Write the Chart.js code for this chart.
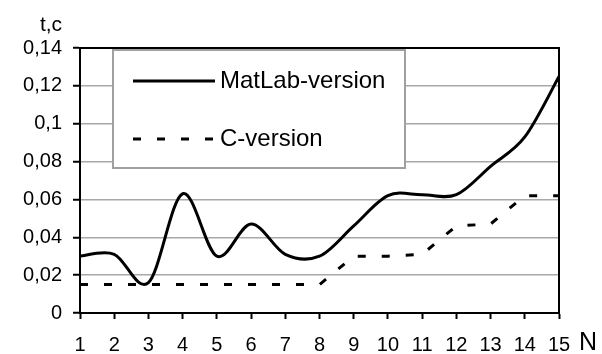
<!DOCTYPE html>
<html>
<head>
<meta charset="utf-8">
<script src="https://cdn.jsdelivr.net/npm/chart.js@4.4.0/dist/chart.umd.min.js"></script>
<style>
  body { margin: 0; background: #fff; }
</style>
</head>
<body>
<canvas id="timeChart" width="602" height="354"></canvas>
<script>
// values
var nValues      = [1, 2, 3, 4, 5, 6, 7, 8, 9, 10, 11, 12, 13, 14, 15];
var matlabTimes  = [0.030, 0.031, 0.016, 0.063, 0.030, 0.047, 0.031, 0.030, 0.046, 0.062, 0.0625, 0.0625, 0.0775, 0.093, 0.125];
var cTimes       = [0.015, 0.015, 0.015, 0.015, 0.015, 0.015, 0.015, 0.015, 0.030, 0.030, 0.031, 0.046, 0.047, 0.062, 0.062];
var seriesLabels = ['MatLab-version', 'C-version'];
var yTickValues  = [0, 0.02, 0.04, 0.06, 0.08, 0.1, 0.12, 0.14];
var yTitle = 't,c';
var xTitle = 'N';

function toPoints(ys){
    var pts = [];
    for (var i = 0; i < nValues.length; i++) {
        pts.push({ x: nValues[i], y: ys[i] });
    }
    return pts;
}

var FONT = 'Liberation Sans, Arial, sans-serif';

// excel-like smoothing: uniform catmull-rom control points on the smooth series
var smoothPlugin = {
    id: 'smooth',
    beforeDatasetsDraw: function(chart){
        chart.data.datasets.forEach(function(ds, di){
            if (!ds.tension) return;
            var meta = chart.getDatasetMeta(di);
            meta.dataset.updateControlPoints(chart.chartArea);
            var pts = meta.data;
            var n = pts.length;
            for (var i = 0; i < n; i++) {
                var prev = pts[Math.max(i - 1, 0)];
                var next = pts[Math.min(i + 1, n - 1)];
                var dx = (next.x - prev.x) / 6;
                var dy = (next.y - prev.y) / 6;
                pts[i].cp1x = pts[i].x - dx;
                pts[i].cp1y = pts[i].y - dy;
                pts[i].cp2x = pts[i].x + dx;
                pts[i].cp2y = pts[i].y + dy;
            }
        });
    }
};

// legend box, axis titles and frame drawn by hand
var extrasPlugin = {
    id: 'extras',
    beforeDatasetsDraw: function(chart){
        var ctx = chart.ctx;
        var ca = chart.chartArea;
        var bx = ca.left + 33, by = ca.top + 2, bw = 292, bh = 118;
        ctx.save();
        ctx.fillStyle = '#fff';
        ctx.fillRect(bx, by, bw, bh);
        ctx.strokeStyle = '#a0a0a0';
        ctx.lineWidth = 2;
        ctx.strokeRect(bx, by, bw, bh);

        var rows = [by + 31, by + 89];
        chart.data.datasets.forEach(function(ds, i){
            ctx.beginPath();
            ctx.strokeStyle = ds.borderColor;
            ctx.lineWidth = ds.borderWidth;
            ctx.setLineDash(ds.borderDash || []);
            ctx.moveTo(bx + 20, rows[i]);
            ctx.lineTo(bx + 102, rows[i]);
            ctx.stroke();
            ctx.setLineDash([]);
            ctx.fillStyle = '#000';
            ctx.font = '24px ' + FONT;
            ctx.textAlign = 'left';
            ctx.textBaseline = 'middle';
            ctx.fillText(ds.label, bx + 107, rows[i]);
        });
        ctx.restore();
    },
    afterDraw: function(chart){
        var ctx = chart.ctx;
        var ca = chart.chartArea;
        ctx.save();
        ctx.strokeStyle = '#000';
        ctx.lineWidth = 2;
        ctx.beginPath();
        ctx.moveTo(ca.left, ca.top);
        ctx.lineTo(ca.right, ca.top);
        ctx.lineTo(ca.right, ca.bottom);
        ctx.stroke();

        ctx.fillStyle = '#000';
        ctx.textAlign = 'center';
        ctx.textBaseline = 'middle';
        ctx.font = '21px ' + FONT;
        ctx.fillText(yTitle, ca.left - 29, ca.top - 23);
        ctx.font = '25px ' + FONT;
        ctx.fillText(xTitle, ca.right + 29, ca.bottom + 30);
        ctx.restore();
    }
};

var ctx = document.getElementById('timeChart').getContext('2d');
var myChart = new Chart(ctx, {
    type: 'line',
    data: {
        datasets: [{
            label: seriesLabels[0],
            data: toPoints(matlabTimes),
            borderColor: '#000',
            borderWidth: 3,
            pointRadius: 0,
            tension: 0.4,
            fill: false
        }, {
            label: seriesLabels[1],
            data: toPoints(cTimes),
            borderColor: '#000',
            borderWidth: 3,
            borderDash: [8, 16],
            pointRadius: 0,
            tension: 0,
            fill: false
        }]
    },
    options: {
        responsive: false,
        animation: false,
        layout: { padding: { top: 48, right: 43, left: 0, bottom: 0 } },
        plugins: {
            legend: { display: false },
            tooltip: { enabled: false }
        },
        scales: {
            x: {
                type: 'linear',
                min: 1,
                max: 15,
                afterFit: function(scale){ scale.height = 41; },
                ticks: {
                    stepSize: 1,
                    color: '#000',
                    font: { family: FONT, size: 20 },
                    padding: 14,
                    maxRotation: 0
                },
                grid: {
                    drawOnChartArea: false,
                    drawTicks: true,
                    tickLength: 6,
                    tickColor: '#000',
                    tickWidth: 2
                },
                border: { color: '#000', width: 2 }
            },
            y: {
                min: 0,
                max: 0.14,
                afterFit: function(scale){ scale.width = 80; },
                afterBuildTicks: function(scale){
                    scale.ticks = yTickValues.map(function(v){ return { value: v }; });
                },
                ticks: {
                    color: '#000',
                    font: { family: FONT, size: 20 },
                    padding: 11,
                    callback: function(v){
                        if (v === 0) return '0';
                        return String(+v.toFixed(2)).replace('.', ',');
                    }
                },
                grid: {
                    color: '#a8a8a8',
                    lineWidth: 1.5,
                    tickLength: 7,
                    tickColor: '#000',
                    tickWidth: 2
                },
                border: { color: '#000', width: 2 }
            }
        }
    },
    plugins: [smoothPlugin, extrasPlugin]
});
</script>
</body>
</html>
